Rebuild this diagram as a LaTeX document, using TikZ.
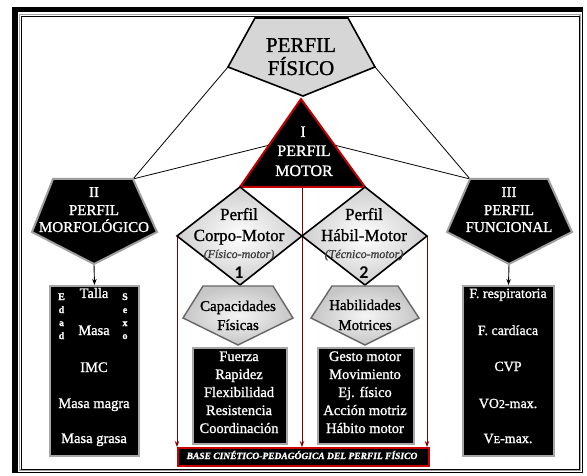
\documentclass[tikz,border=0pt]{standalone}
\usepackage{fontspec}
\setmainfont{Liberation Serif}[FakeBold=1.2]
\newfontfamily\numfont{Carlito}
\usetikzlibrary{arrows.meta}
\begin{document}
\begin{tikzpicture}[x=1pt,y=-1pt,line join=miter,
  tw/.style={text=white,inner sep=0pt,anchor=base},
  tb/.style={text=black,inner sep=0pt,anchor=base},
  blackshape/.style={fill=black,draw=gray!75,line width=2},
  redtri/.style={fill=black,draw=red!75!black,line width=2},
  greyshape/.style={draw=black,line width=1.6},
  boxshape/.style={fill=black,draw=gray!70,line width=2},
  link/.style={draw=black,line width=0.8},
  redlink/.style={draw=red!50!black,line width=1,-{Stealth[length=6,width=4.5]}},
  blkarrow/.style={draw=black,line width=0.9,-{Stealth[length=6,width=4.5]}},
  fA/.style={font=\fontsize{21}{21}\selectfont},
  fB/.style={font=\fontsize{16}{16}\selectfont},
  fC/.style={font=\fontsize{15}{15}\selectfont},
  fD/.style={font=\fontsize{17}{17}\selectfont},
  fE/.style={font=\fontsize{14.5}{14.5}\selectfont},
  fI/.style={font=\fontsize{12}{12}\selectfont\itshape},
  fN/.style={font=\fontsize{18}{18}\numfont\bfseries},
  fL/.style={font=\fontsize{10}{10}\selectfont\bfseries},
  fR/.style={font=\fontsize{14}{14}\selectfont},
  fbar/.style={font=\fontsize{9.5}{9.5}\selectfont\bfseries\itshape}
]
\useasboundingbox (0,0) rectangle (587,476);
\fill[white] (0,0) rectangle (587,476);

% frame
\fill[black] (12,7) rectangle (583,12.5);
\fill[black] (12,7) rectangle (17.5,473);
\draw[black,line width=0.8] (12.4,7.4) rectangle (582.6,472.6);
\draw[gray!70,line width=1.2] (19.5,14.5) rectangle (580,470);
\draw[black,line width=0.8] (21.5,16.5) rectangle (579,469);

% coordinates of the shapes
\coordinate (pf1) at (255,18);  \coordinate (pf2) at (348,18);
\coordinate (pfR) at (375,67);  \coordinate (pfB) at (303,96);
\coordinate (pfL) at (228,67);

\coordinate (tA) at (301,99); \coordinate (tL) at (240,187); \coordinate (tR) at (365,187);
\coordinate (tC) at (302,187); \coordinate (tX) at (302,137);

\coordinate (m1) at (53,179); \coordinate (m2) at (133,179); \coordinate (mR) at (157,232);
\coordinate (mB) at (94,264); \coordinate (mL) at (32,232);

\coordinate (f1) at (470,179); \coordinate (f2) at (548,179); \coordinate (fR) at (572,232);
\coordinate (fB) at (509,264); \coordinate (fL) at (447,232);

\coordinate (d1T) at (240,187); \coordinate (d1L) at (177,236); \coordinate (d1R) at (302,236); \coordinate (d1B) at (240,285);
\coordinate (d2T) at (365,187); \coordinate (d2L) at (302,236); \coordinate (d2R) at (427,236); \coordinate (d2B) at (365,285);

% connectors (drawn first, shapes cover their ends)
\draw[link] (pfL) -- (m2);
\draw[link] (pfR) -- (f1);
\draw[link] (tX) -- (m2);
\draw[link] (tX) -- (f1);

% boxes as nodes
\node[boxshape,minimum width=89,minimum height=170,inner sep=0,anchor=north west] (morbox) at (49,285) {};
\node[boxshape,minimum width=91,minimum height=170,inner sep=0,anchor=north west] (funbox) at (462,285) {};
\node[boxshape,minimum width=94,minimum height=96,inner sep=0,anchor=north west] (capbox) at (192,347) {};
\node[boxshape,minimum width=96,minimum height=96,inner sep=0,anchor=north west] (habbox) at (317,347) {};
\node[fill=black,draw=red!80!black,line width=2,minimum width=251,minimum height=18,inner sep=0,anchor=north west] (bar) at (177,447) {};

\draw[blkarrow] (mB) -- (morbox.north);
\draw[blkarrow] (fB) -- (funbox.north);
\draw[redlink] (d1L) -- (d1L |- bar.north);
\draw[redlink] (tC) -- (tC |- bar.north);
\draw[redlink] (d2R) -- (d2R |- bar.north);

% shapes
\filldraw[greyshape,fill=gray!32] (pf1) -- (pf2) -- (pfR) -- (pfB) -- (pfL) -- cycle;
\filldraw[redtri] (tA) -- (tR) -- (tL) -- cycle;
\filldraw[blackshape] (m1) -- (m2) -- (mR) -- (mB) -- (mL) -- cycle;
\filldraw[blackshape] (f1) -- (f2) -- (fR) -- (fB) -- (fL) -- cycle;
\shadedraw[greyshape,inner color=white,outer color=gray!38] (d1T) -- (d1R) -- (d1B) -- (d1L) -- cycle;
\shadedraw[greyshape,inner color=white,outer color=gray!38] (d2T) -- (d2R) -- (d2B) -- (d2L) -- cycle;
\shadedraw[draw=gray!80!black,line width=1.4,inner color=gray!8,outer color=gray!45] (203,286) -- (273,286) -- (293,318) -- (238,345) -- (183,318) -- cycle;
\shadedraw[draw=gray!80!black,line width=1.4,inner color=gray!8,outer color=gray!45] (332,286) -- (398,286) -- (419,318) -- (365,345) -- (311,318) -- cycle;

% texts
\node[tb,fA] (pfa) at (301,52) {PERFIL};
\node[tb,fA] (pfb) at (301,75) {FÍSICO};

\node[tw,fB] (ma) at (303,137) {I};
\node[tw,fB] (mb) at (304,156) {PERFIL};
\node[tw,fB] (mc) at (304,176) {MOTOR};

\node[tw,fC] (moa) at (94,197) {II};
\node[tw,fC] (mob) at (94,215) {PERFIL};
\node[tw,fC] (moc) at (94,232) {MORFOLÓGICO};

\node[tw,fC] (fua) at (509,197) {III};
\node[tw,fC] (fub) at (509,215) {PERFIL};
\node[tw,fC] (fuc) at (509,232) {FUNCIONAL};

\node[tb,fD] (c1a) at (239,220) {Perfil};
\node[tb,fD] (c1b) at (239,241) {Corpo-Motor};
\node[tb,fI,text=black!75] (c1c) at (239,258) {(Físico-motor)};
\node[tb,fN] (c1d) at (239,278) {1};

\node[tb,fD] (c2a) at (364,220) {Perfil};
\node[tb,fD] (c2b) at (364,241) {Hábil-Motor};
\node[tb,fI,text=black!75] (c2c) at (364,258) {(Técnico-motor)};
\node[tb,fN] (c2d) at (364,278) {2};

\node[tb,fC] (ca) at (238,311) {Capacidades};
\node[tb,fC] (cb) at (238,330) {Físicas};
\node[tb,fC] (ha) at (365,310) {Habilidades};
\node[tb,fC] (hb) at (365,330) {Motrices};

\node[tw,fE] (k1) at (239,361) {Fuerza};
\node[tw,fE] (k2) at (239,379) {Rapidez};
\node[tw,fE] (k3) at (239,397) {Flexibilidad};
\node[tw,fE] (k4) at (239,415) {Resistencia};
\node[tw,fE] (k5) at (239,433) {Coordinación};

\node[tw,fE] (h1) at (365,361) {Gesto motor};
\node[tw,fE] (h2) at (365,379) {Movimiento};
\node[tw,fE] (h3) at (365,397) {Ej. físico};
\node[tw,fE] (h4) at (365,415) {Acción motriz};
\node[tw,fE] (h5) at (365,433) {Hábito motor};

\node[tw,fE] (o1) at (94,298) {Talla};
\node[tw,fE] (o2) at (94,335) {Masa};
\node[tw,fE] (o3) at (94,372) {IMC};
\node[tw,fE] (o4) at (94,408) {Masa magra};
\node[tw,fE] (o5) at (94,443) {Masa grasa};

\node[tw,fL] (e1) at (61.5,300) {E};
\node[tw,fL] (e2) at (61.5,313) {d};
\node[tw,fL] (e3) at (61.5,326) {a};
\node[tw,fL] (e4) at (61.5,339) {d};
\node[tw,fL] (s1) at (125,300) {S};
\node[tw,fL] (s2) at (125,313) {e};
\node[tw,fL] (s3) at (125,326) {x};
\node[tw,fL] (s4) at (125,339) {o};

\node[tw,fR] (r1) at (508,298) {F. respiratoria};
\node[tw,fR] (r2) at (508,335) {F. cardíaca};
\node[tw,fR] (r3) at (508,371) {CVP};
\node[tw,fR] (r4) at (508,408) {VO{\fontsize{12}{12}\selectfont 2}-max.};
\node[tw,fR] (r5) at (508,443) {V{\fontsize{10.5}{10.5}\selectfont E}-max.};

\node[tw,fbar] (bt) at (302,459) {BASE CINÉTICO-PEDAGÓGICA DEL PERFIL FÍSICO};
\end{tikzpicture}
\end{document}
